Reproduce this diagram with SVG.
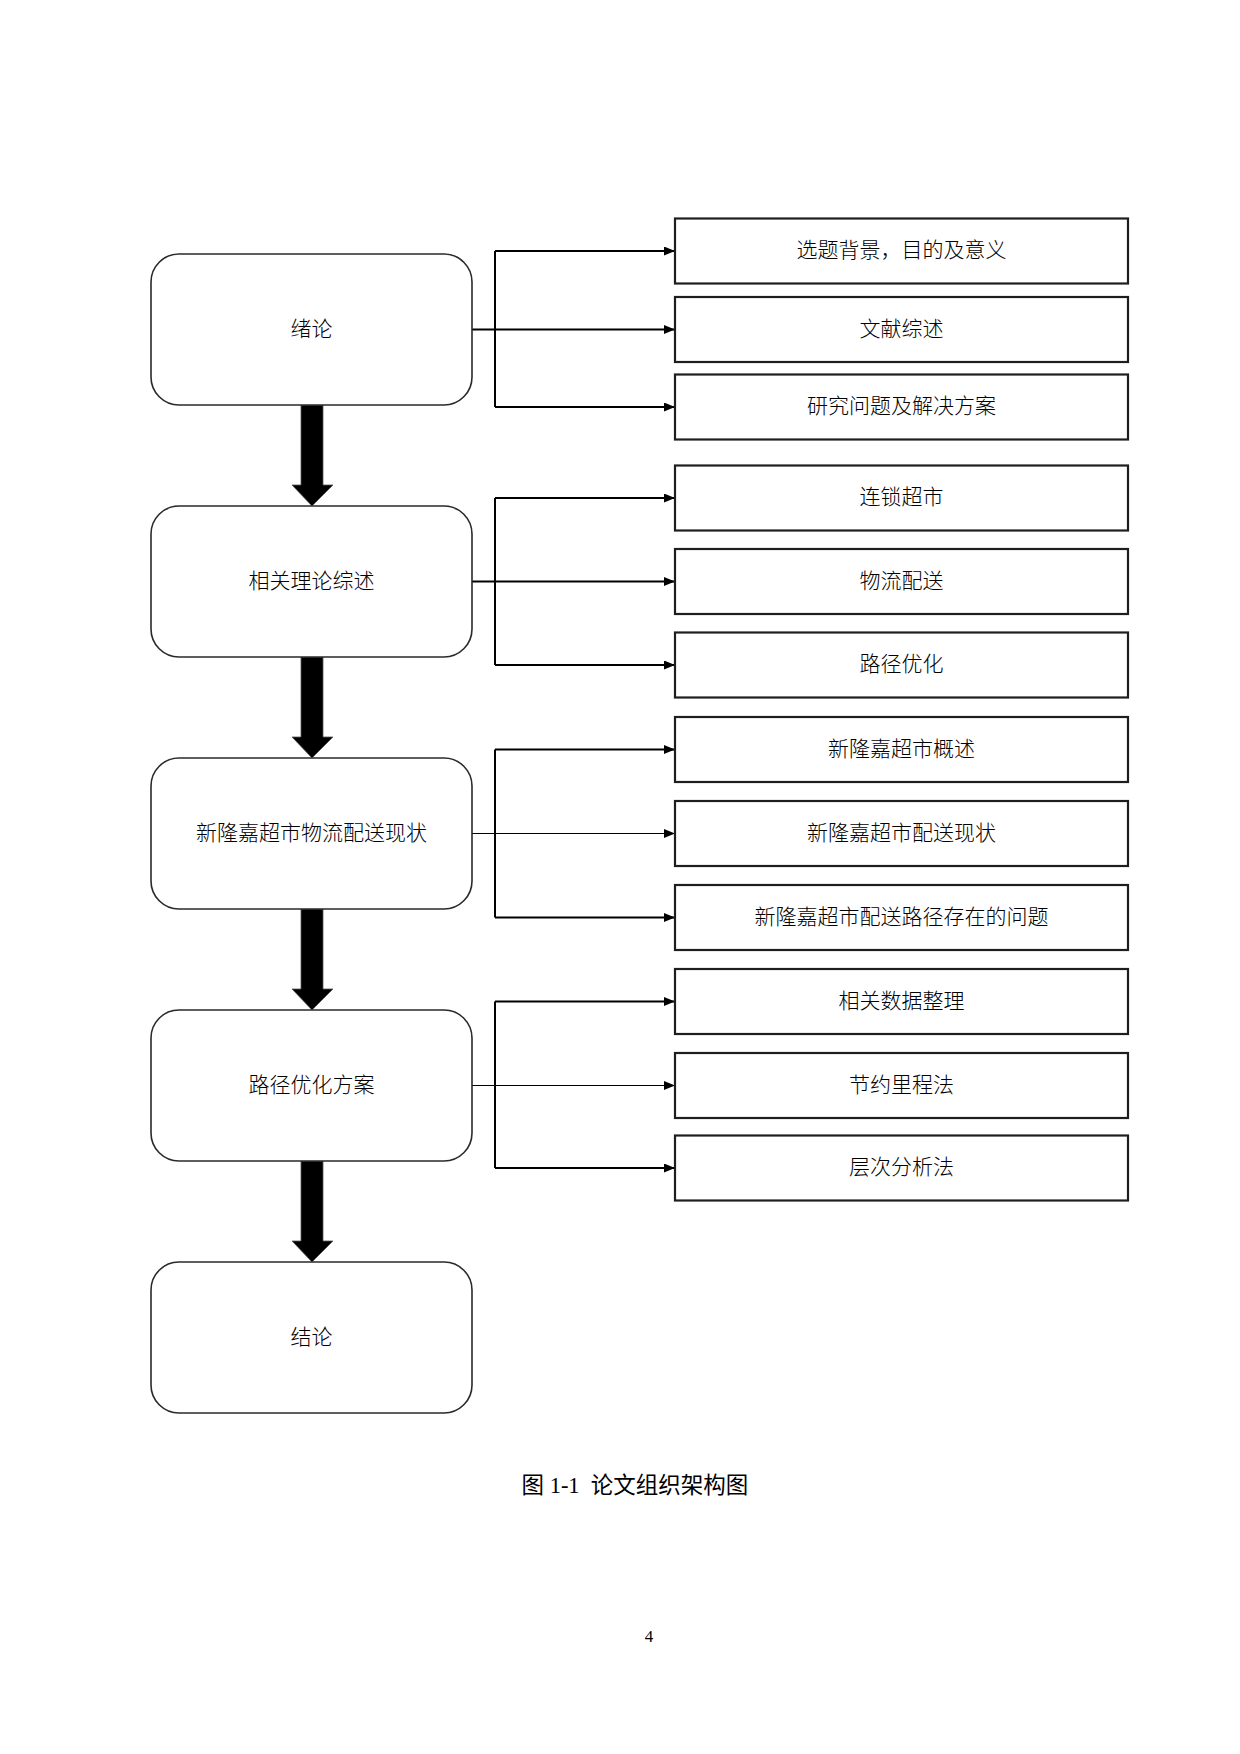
<svg xmlns="http://www.w3.org/2000/svg" width="1240" height="1754" viewBox="0 0 1240 1754">
<style>
.bg{fill:#ffffff}
.stage{fill:#ffffff;stroke:#2a2a2a;stroke-width:1.6}
.item{fill:#ffffff;stroke:#1e1e1e;stroke-width:2.2}
.t{font-family:"Noto Sans CJK SC","Liberation Sans",sans-serif;font-size:21px;font-weight:300;fill:#000;text-anchor:middle}
.link{fill:none;stroke:#000;stroke-width:2}
.thin{fill:none;stroke:#000;stroke-width:1.2}
.big{fill:#000;stroke:#555;stroke-width:0.8}
.cap{font-family:"Liberation Serif","Noto Sans CJK SC",serif;font-size:22.5px;fill:#000}
.pg{font-family:"Liberation Serif",serif;font-size:17px;fill:#000;text-anchor:middle}
</style>
<defs>
<marker id="ah" markerUnits="userSpaceOnUse" markerWidth="12" markerHeight="10" refX="11" refY="4.5" orient="auto">
<path d="M0,0 L11,4.5 L0,9 z" fill="#000"/>
</marker>
</defs>
<rect class="bg" x="0" y="0" width="1240" height="1754"/>

<g id="connectors">
<path class="big" d="M301,405 H323 V485 H333 L312,506 L292,485 H301 Z"/>
<path class="big" d="M301,657 H323 V737 H333 L312,758 L292,737 H301 Z"/>
<path class="big" d="M301,909 H323 V989 H333 L312,1010 L292,989 H301 Z"/>
<path class="big" d="M301,1161 H323 V1241 H333 L312,1262 L292,1241 H301 Z"/>
<path class="link" d="M495,251 V407"/>
<path class="link" d="M495,251 H675" marker-end="url(#ah)"/>
<path class="link" d="M472,329.5 H675" marker-end="url(#ah)"/>
<path class="link" d="M495,407 H675" marker-end="url(#ah)"/>
<path class="link" d="M495,498 V665"/>
<path class="link" d="M495,498 H675" marker-end="url(#ah)"/>
<path class="link" d="M472,581.5 H675" marker-end="url(#ah)"/>
<path class="link" d="M495,665 H675" marker-end="url(#ah)"/>
<path class="link" d="M495,749.5 V917.5"/>
<path class="link" d="M495,749.5 H675" marker-end="url(#ah)"/>
<path class="thin" d="M472,833.5 H675" marker-end="url(#ah)"/>
<path class="link" d="M495,917.5 H675" marker-end="url(#ah)"/>
<path class="link" d="M495,1001.5 V1168"/>
<path class="link" d="M495,1001.5 H675" marker-end="url(#ah)"/>
<path class="thin" d="M472,1085.5 H675" marker-end="url(#ah)"/>
<path class="link" d="M495,1168 H675" marker-end="url(#ah)"/>
</g>

<g id="stage1"><rect class="stage" x="151" y="254" width="321" height="151" rx="28"/><text class="t" x="311.5" y="335.5">绪论</text></g>
<g id="stage2"><rect class="stage" x="151" y="506" width="321" height="151" rx="28"/><text class="t" x="311.5" y="587.5">相关理论综述</text></g>
<g id="stage3"><rect class="stage" x="151" y="758" width="321" height="151" rx="28"/><text class="t" x="311.5" y="839.5">新隆嘉超市物流配送现状</text></g>
<g id="stage4"><rect class="stage" x="151" y="1010" width="321" height="151" rx="28"/><text class="t" x="311.5" y="1091.5">路径优化方案</text></g>
<g id="stage5"><rect class="stage" x="151" y="1262" width="321" height="151" rx="28"/><text class="t" x="311.5" y="1343.5">结论</text></g>

<g id="item1-1"><rect class="item" x="675" y="218.5" width="453" height="65"/><text class="t" x="901.5" y="257">选题背景，目的及意义</text></g>
<g id="item1-2"><rect class="item" x="675" y="297" width="453" height="65"/><text class="t" x="901.5" y="335.5">文献综述</text></g>
<g id="item1-3"><rect class="item" x="675" y="374.5" width="453" height="65"/><text class="t" x="901.5" y="413">研究问题及解决方案</text></g>

<g id="item2-1"><rect class="item" x="675" y="465.5" width="453" height="65"/><text class="t" x="901.5" y="504">连锁超市</text></g>
<g id="item2-2"><rect class="item" x="675" y="549" width="453" height="65"/><text class="t" x="901.5" y="587.5">物流配送</text></g>
<g id="item2-3"><rect class="item" x="675" y="632.5" width="453" height="65"/><text class="t" x="901.5" y="671">路径优化</text></g>

<g id="item3-1"><rect class="item" x="675" y="717" width="453" height="65"/><text class="t" x="901.5" y="755.5">新隆嘉超市概述</text></g>
<g id="item3-2"><rect class="item" x="675" y="801" width="453" height="65"/><text class="t" x="901.5" y="839.5">新隆嘉超市配送现状</text></g>
<g id="item3-3"><rect class="item" x="675" y="885" width="453" height="65"/><text class="t" x="901.5" y="923.5">新隆嘉超市配送路径存在的问题</text></g>

<g id="item4-1"><rect class="item" x="675" y="969" width="453" height="65"/><text class="t" x="901.5" y="1007.5">相关数据整理</text></g>
<g id="item4-2"><rect class="item" x="675" y="1053" width="453" height="65"/><text class="t" x="901.5" y="1091.5">节约里程法</text></g>
<g id="item4-3"><rect class="item" x="675" y="1135.5" width="453" height="65"/><text class="t" x="901.5" y="1174">层次分析法</text></g>

<text class="cap" x="521.5" y="1493" xml:space="preserve">图 1-1  论文组织架构图</text>
<text class="pg" x="649" y="1642">4</text>
</svg>
